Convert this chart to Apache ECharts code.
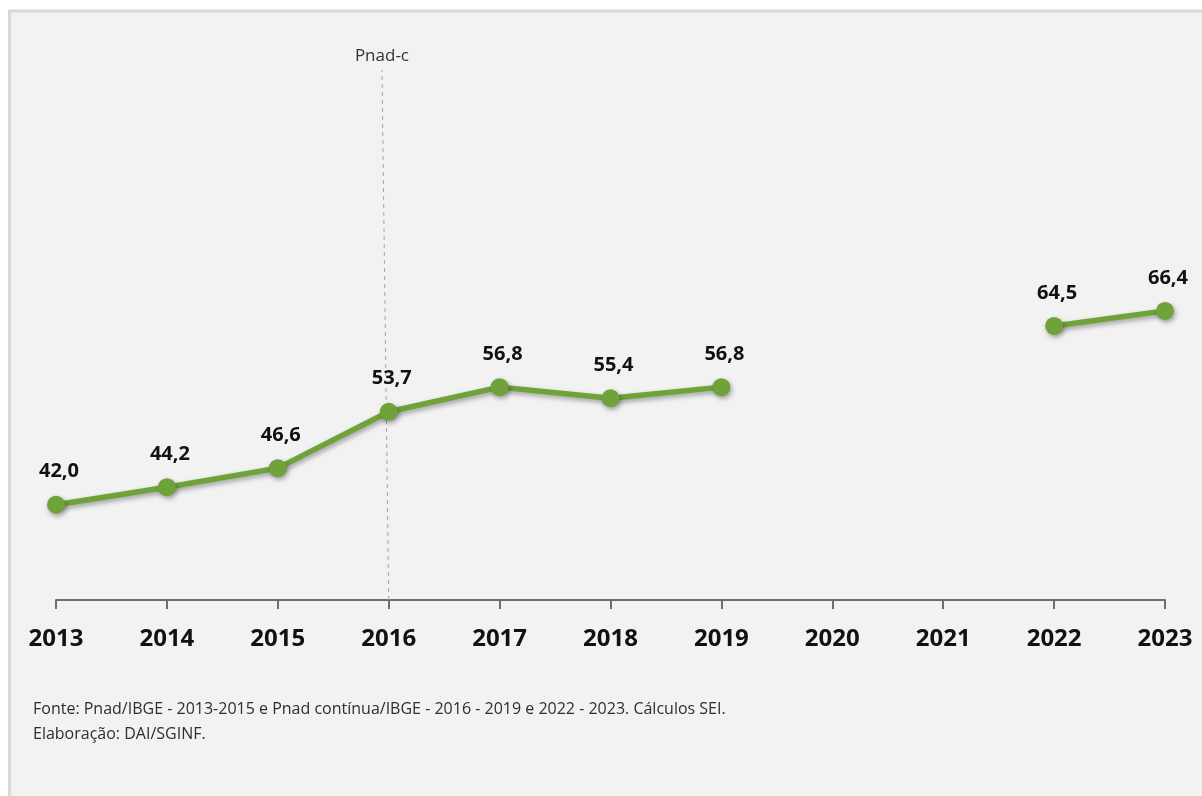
<!DOCTYPE html>
<html>
<head>
<meta charset="utf-8">
<script src="https://cdn.jsdelivr.net/npm/echarts@6/dist/echarts.min.js"></script>
<style>
  html, body { margin: 0; padding: 0; background: #ffffff; }
  #chart { width: 1202px; height: 796px; }
</style>
</head>
<body>
<div id="chart"></div>
<script>
// Years on the horizontal axis
const years = ['2013', '2014', '2015', '2016', '2017', '2018', '2019', '2020', '2021', '2022', '2023'];
// Indicator values (%); no survey values for 2020 and 2021
const values = [42.0, 44.2, 46.6, 53.7, 56.8, 55.4, 56.8, null, null, 64.5, 66.4];
// Year where the continuous survey begins
const pnadcYear = '2016';
const pnadcLabel = 'Pnad-c';
const footnoteLines = [
  'Fonte: Pnad/IBGE - 2013-2015 e Pnad contínua/IBGE - 2016 - 2019 e 2022 - 2023. Cálculos SEI.',
  'Elaboração: DAI/SGINF.'
];

const green = '#70a23a';
const font = '"Open Sans", "Noto Sans", sans-serif';
const chart = echarts.init(document.getElementById('chart'));

chart.setOption({
  backgroundColor: '#ffffff',
  animation: false,
  graphic: [
    {
      type: 'rect',
      z: -10,
      shape: { x: 9.5, y: 11, width: 1200, height: 800 },
      style: { fill: '#f2f2f2', stroke: '#d9d9d9', lineWidth: 3 }
    },
    {
      type: 'text',
      left: 33,
      top: 697,
      style: {
        text: footnoteLines.join('\n'),
        font: '16px ' + font,
        lineHeight: 25,
        fill: '#2e2e2e'
      }
    }
  ],
  grid: { left: 56, right: 37, top: 44, bottom: 196 },
  xAxis: {
    type: 'category',
    data: years,
    boundaryGap: false,
    axisLine: { lineStyle: { color: '#6e6e6e', width: 2 } },
    axisTick: { length: 9, lineStyle: { color: '#6e6e6e', width: 2 } },
    axisLabel: {
      margin: 27,
      fontSize: 24,
      fontWeight: 'bold',
      color: '#111111',
      fontFamily: font
    },
    splitLine: { show: false }
  },
  yAxis: {
    type: 'value',
    min: 30,
    max: 100,
    show: false
  },
  series: [
    {
      type: 'line',
      data: values,
      connectNulls: false,
      symbol: 'circle',
      symbolSize: 18,
      lineStyle: {
        color: green,
        width: 5.5,
        shadowColor: 'rgba(0,0,0,0.35)',
        shadowBlur: 5,
        shadowOffsetX: 1.5,
        shadowOffsetY: 2.5
      },
      itemStyle: {
        color: green,
        shadowColor: 'rgba(0,0,0,0.35)',
        shadowBlur: 5,
        shadowOffsetX: 1.5,
        shadowOffsetY: 2.5
      },
      label: {
        show: true,
        position: 'top',
        distance: 14,
        offset: [3, 0],
        fontSize: 20,
        fontWeight: 'bold',
        color: '#111111',
        fontFamily: font,
        formatter: p => p.value == null ? '' : p.value.toFixed(1).replace('.', ',')
      },
      markLine: {
        silent: true,
        symbol: 'none',
        z: 1,
        lineStyle: { color: '#a6a6a6', type: [4, 4], width: 1 },
        label: {
          show: true,
          position: 'end',
          distance: 5,
          formatter: pnadcLabel,
          fontSize: 17,
          color: '#333333',
          fontFamily: font
        },
        data: [[
          { coord: [pnadcYear, 30] },
          { x: 382, y: 70 }
        ]]
      }
    }
  ]
});
</script>
</body>
</html>
